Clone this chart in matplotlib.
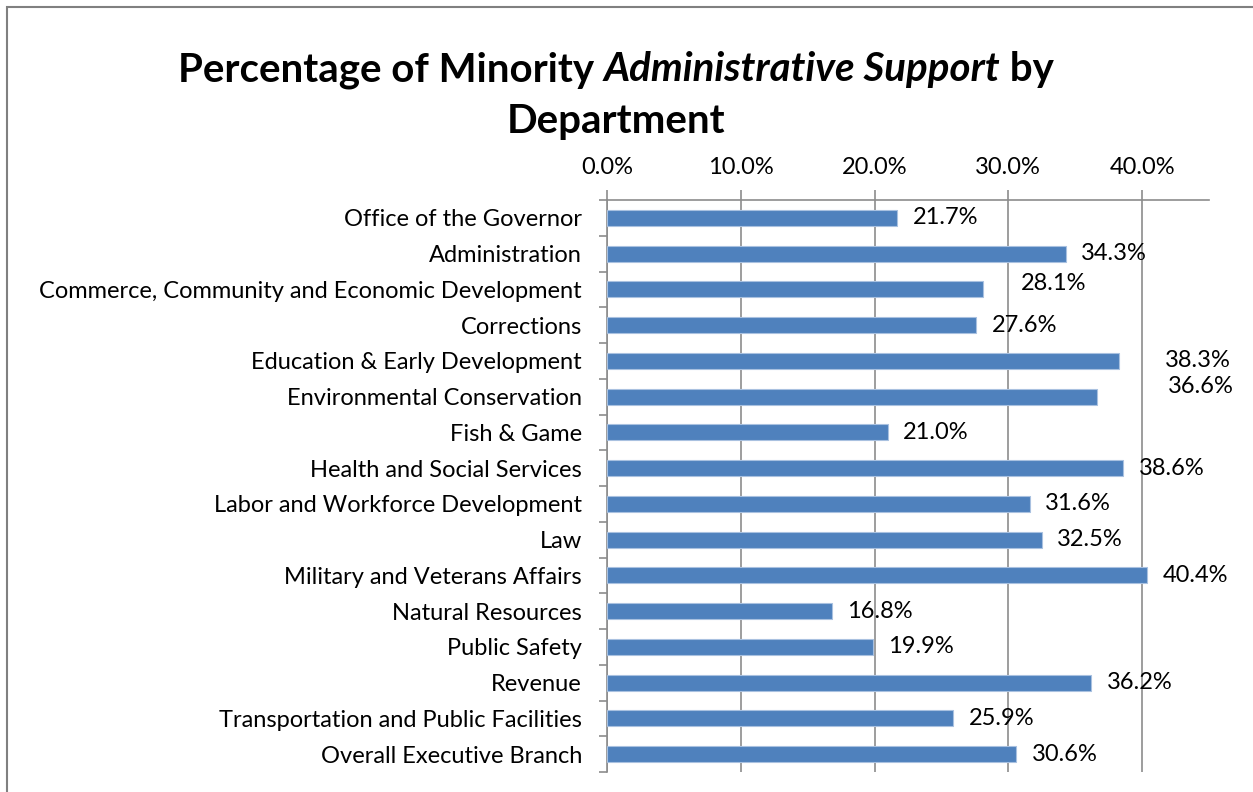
import matplotlib
matplotlib.use('Agg')
from matplotlib import pyplot as plt
from matplotlib.patches import Rectangle
from matplotlib.ticker import FixedLocator, FuncFormatter

departments = [
    'Office of the Governor',
    'Administration',
    'Commerce, Community and Economic Development',
    'Corrections',
    'Education & Early Development',
    'Environmental Conservation',
    'Fish & Game',
    'Health and Social Services',
    'Labor and Workforce Development',
    'Law',
    'Military and Veterans Affairs',
    'Natural Resources',
    'Public Safety',
    'Revenue',
    'Transportation and Public Facilities',
    'Overall Executive Branch',
]
pct_minority = [21.7, 34.3, 28.1, 27.6, 38.3, 36.6, 21.0, 38.6,
                31.6, 32.5, 40.4, 16.8, 19.9, 36.2, 25.9, 30.6]
x_ticks = [0, 10, 20, 30, 40]

# a few labels sit off their default spot (points: dx, dy)
label_nudge = {
    'Commerce, Community and Economic Development': (16, 4),
    'Education & Early Development': (22, 0),
    'Environmental Conservation': (40, 7),
}

plt.rcParams['font.family'] = ['Lato', 'DejaVu Sans']

BAR = '#4F81BD'
GRID = '#8C8C8C'
FS = 17

fig = plt.figure(figsize=(12.53, 7.92), dpi=100)
ax = fig.add_axes([607 / 1253, 1 - 772 / 792, 602 / 1253, 572 / 792])

ypos = list(range(len(departments)))
ax.barh(ypos, pct_minority, height=0.45, color=BAR, edgecolor='#A9C1E0',
        linewidth=0.8, zorder=3)

ax.set_xlim(0, 45)
ax.set_ylim(len(departments) - 0.5, -0.5)

ax.xaxis.set_ticks_position('top')
ax.xaxis.set_major_locator(FixedLocator(x_ticks))
ax.xaxis.set_major_formatter(FuncFormatter(lambda v, p: f'{v:.1f}%'))
ax.tick_params(axis='x', length=7, width=1.2, color=GRID, pad=9,
               labelsize=FS)
ax.grid(axis='x', color=GRID, linewidth=1.2, zorder=0)

ax.set_yticks(ypos)
ax.set_yticklabels(departments)
ax.yaxis.set_minor_locator(FixedLocator([i - 0.5 for i in range(len(departments) + 1)]))
ax.tick_params(axis='y', which='major', length=0, pad=18, labelsize=FS)
ax.tick_params(axis='y', which='minor', length=6, width=1.2, color=GRID)

for side in ['right', 'bottom']:
    ax.spines[side].set_visible(False)
for side in ['top', 'left']:
    ax.spines[side].set_color(GRID)
    ax.spines[side].set_linewidth(1.2)

for i, (dept, val) in enumerate(zip(departments, pct_minority)):
    dx, dy = label_nudge.get(dept, (0, 0))
    ax.annotate(f'{val:.1f}%', xy=(val, i), xytext=(11 + dx, dy),
                textcoords='offset points', ha='left', va='center',
                fontsize=FS, color='black')

# title with italic middle part, laid out piece by piece
title_parts = [('Percentage of Minority ', 'normal'),
               ('Administrative Support', 'italic'),
               (' by', 'normal')]
renderer = fig.canvas.get_renderer()
texts = []
for s, style in title_parts:
    t = fig.text(0, 1 - 70 / 792, s, fontsize=29, fontweight='bold',
                 style=style, va='center', ha='left')
    texts.append(t)
widths = [t.get_window_extent(renderer).width for t in texts]
x = 616 - sum(widths) / 2
for t, w in zip(texts, widths):
    t.set_x(x / 1253)
    x += w
fig.text(616 / 1253, 1 - 121 / 792, 'Department', fontsize=29,
         fontweight='bold', ha='center', va='center')

# chart border (only left and top edges fall inside the image)
fig.patches.append(Rectangle((7 / 1253, -0.1), 1.2, (1 - 7 / 792) + 0.1,
                             transform=fig.transFigure, fill=False,
                             edgecolor='#808080', linewidth=1.5))

fig.savefig('out.png', dpi=100)
